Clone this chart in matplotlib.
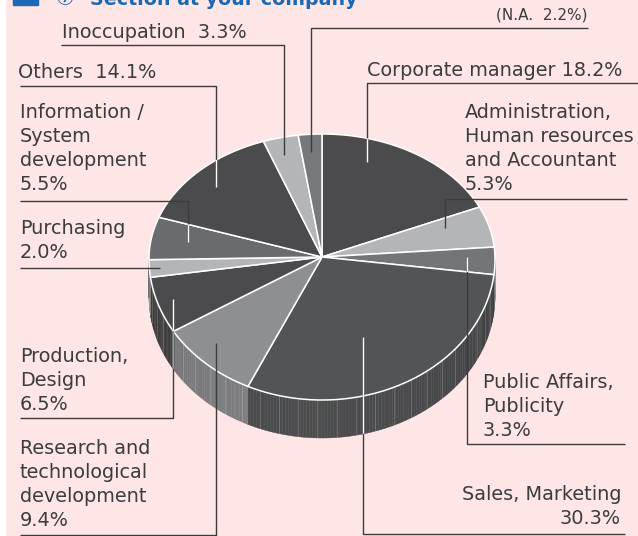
import numpy as np
import matplotlib
matplotlib.use("Agg")
import matplotlib.pyplot as plt
from matplotlib.patches import Polygon, Rectangle
from matplotlib.colors import to_rgb

# data (clockwise from 12 o'clock)
categories = ["Corporate manager", "Administration,\nHuman resources\nand Accountant",
              "Public Affairs,\nPublicity", "Sales, Marketing", "Research and\ntechnological\ndevelopment",
              "Production,\nDesign", "Purchasing", "Information /\nSystem\ndevelopment",
              "Others", "Inoccupation", "N.A."]
shares = [18.2, 5.3, 3.3, 30.3, 9.4, 6.5, 2.0, 5.5, 14.1, 3.3, 2.2]
slice_colors = ["#4b4b4d", "#b4b5b7", "#747578", "#535456", "#8e8f92", "#4b4b4d",
                "#b4b5b7", "#6a6b6e", "#4b4b4d", "#b4b5b7", "#77787b"]
white_leader = [True, False, True, True, False, True, False, True, True, False, False]

# label layout: x, first line centre y, align, separator, leader polyline
layout = [
    (367, 70, "left", " ", [(638, 83), (367, 83), (367, 162)]),
    (465, 113, "left", "\n", [(627, 199), (445, 199), (445, 228)]),
    (483, 383, "left", "\n", [(625, 444), (467, 444), (467, 257)]),
    (621, 495, "right", "\n", [(625, 534), (363, 534), (363, 337)]),
    (20, 448, "left", "\n", [(20, 535), (216, 535), (216, 343)]),
    (20, 357, "left", "\n", [(20, 418), (173, 418), (173, 299)]),
    (20, 228, "left", "\n", [(20, 268), (160, 268)]),
    (20, 113, "left", "\n", [(20, 201), (188, 201), (188, 242)]),
    (18, 72, "left", "  ", [(20, 86), (216, 86), (216, 187)]),
    (62, 32, "left", "  ", [(61, 45), (284, 45), (284, 155)]),
    (587, 15, "right", "  ", [(588, 28), (311, 28), (311, 152)]),
]

BG = "#fde6e5"
TXT = "#3c3c3c"
cx, cy, vy = 322, 259, 257
rx, ry_up, ry_dn, depth = 173, 125, 141, 38


def pt(deg, dy=0):
    t = np.radians(deg)
    ry = ry_up if np.cos(t) > 0 else ry_dn
    return cx + rx * np.sin(t), cy - ry * np.cos(t) + dy


fig = plt.figure(figsize=(6.38, 5.36), dpi=100, facecolor=BG)
ax = fig.add_axes([0, 0, 1, 1])
ax.set_xlim(0, 638)
ax.set_ylim(536, 0)
ax.axis("off")
ax.add_patch(Rectangle((0, 0), 5, 536, color="white", zorder=0))

# title (cut at the top edge, as in the source)
ax.add_patch(Rectangle((13, -20), 25, 25, color="#1c68b5", zorder=5))
ax.text(55, 5, "⑦", fontsize=15, color="#1c68b5", va="baseline",
        family=["DejaVu Sans", "Noto Sans CJK JP"], zorder=5)
ax.text(90, 5, "Section at your company", fontsize=13.7, fontweight="bold",
        color="#1c68b5", va="baseline", zorder=5)

bounds = np.concatenate([[0], np.cumsum(shares)]) * 360 / sum(shares)

# side wall
tops, sides = [], []
for i, col in enumerate(slice_colors):
    a0, a1 = max(bounds[i], 90), min(bounds[i + 1], 270)
    side_parts = []
    if a1 > a0:
        angs = np.linspace(a0, a1, max(int(a1 - a0), 2) + 1)
        for b0, b1 in zip(angs[:-1], angs[1:]):
            f = 0.74 + 0.16 * (-np.cos(np.radians((b0 + b1) / 2)))
            c = tuple(np.array(to_rgb(col)) * f)
            q = Polygon([pt(b0), pt(b1), pt(b1, depth), pt(b0, depth)],
                        closed=True, facecolor=c, edgecolor=c, lw=0.3, zorder=2)
            ax.add_patch(q)
        poly = [pt(a) for a in angs] + [pt(a, depth) for a in angs[::-1]]
        p = Polygon(poly, closed=True, facecolor="none", edgecolor="none", zorder=2)
        ax.add_patch(p)
        side_parts.append(p)
    sides.append(side_parts)

# faint streaks on the side
for a in np.arange(97, 268, 6.5):
    x0, y0 = pt(a)
    ax.plot([x0, x0], [y0, y0 + depth], color="white", alpha=0.18, lw=0.6, zorder=2.5)

# top face
for i, col in enumerate(slice_colors):
    angs = np.linspace(bounds[i], bounds[i + 1], max(int(bounds[i + 1] - bounds[i]), 2) + 1)
    poly = [(cx, vy)] + [pt(a) for a in angs]
    p = Polygon(poly, closed=True, facecolor=col, edgecolor="white", lw=1.1, zorder=3)
    ax.add_patch(p)
    tops.append(p)

# leader lines and labels
for i, (name, v) in enumerate(zip(categories, shares)):
    x, y, ha, sep, line = layout[i]
    xs, ys = zip(*line)
    ax.plot(xs, ys, color=TXT, lw=1.0, zorder=4, solid_capstyle="butt")
    if white_leader[i]:
        for p in [tops[i]] + sides[i]:
            ln, = ax.plot(xs, ys, color="white", lw=1.0, zorder=4.5, solid_capstyle="butt")
            ln.set_clip_path(p)
    label = f"{name}{sep}{v:.1f}%"
    size = 13.9
    if name == "N.A.":
        label = f"(N.A.  {v:.1f}%)"
        size = 11
    for k, row in enumerate(label.split("\n")):
        ax.text(x, y + 24 * k, row, ha=ha, va="center", fontsize=size, color=TXT, zorder=6)

fig.savefig("out.png", dpi=100, facecolor=BG)
